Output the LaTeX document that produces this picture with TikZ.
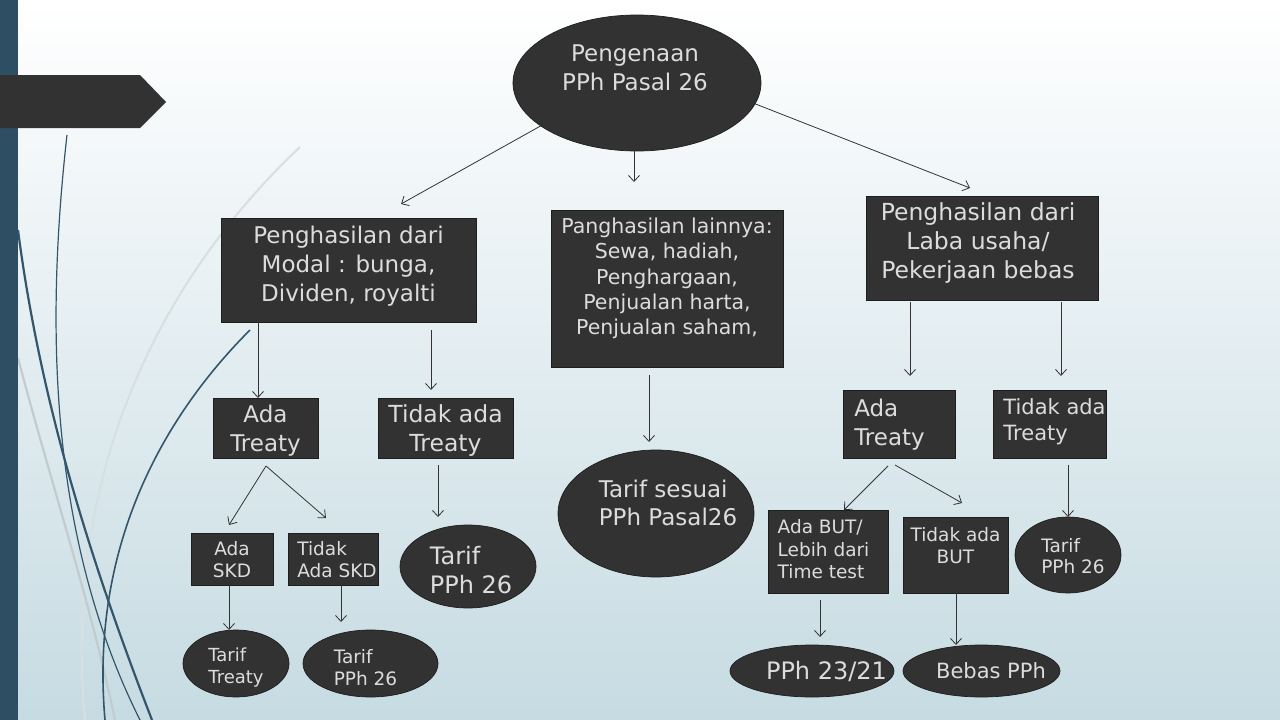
\documentclass[tikz,border=0pt]{standalone}
\usepackage{fontspec}
\setmainfont{DejaVu Sans}
\usetikzlibrary{shapes.geometric, arrows.meta, calc}
\definecolor{nodefill}{HTML}{323232}
\definecolor{nodeedge}{HTML}{1E1E1E}
\definecolor{txtcol}{HTML}{DCDCDC}
\definecolor{linecol}{HTML}{333333}
\definecolor{barcol}{HTML}{2E4E64}
\definecolor{bgtop}{HTML}{FFFFFF}
\definecolor{bgmid}{HTML}{EAF0F3}
\definecolor{bgbot}{HTML}{C6DBE2}
\definecolor{curvedark}{HTML}{34566C}
\definecolor{curvegray}{HTML}{C2CBD0}
\definecolor{curvelight}{HTML}{D8DFE2}
\newcommand\myfs[2]{\fontsize{#1}{#2}\selectfont}
\begin{document}
\begin{tikzpicture}[x=1pt,y=-1pt,
  shp/.style={fill=nodefill, draw=nodeedge, line width=0.7pt, inner sep=0pt, outer sep=0pt},
  box/.style={shp, rectangle},
  ell/.style={shp, ellipse},
  txt/.style={text=txtcol, inner sep=0pt, align=center},
  txl/.style={text=txtcol, inner sep=0pt, align=left},
  arr/.style={draw=linecol, line width=0.8pt, -{Straight Barb[length=6pt,width=11pt]}},
]
\useasboundingbox (0,0) rectangle (1280,720);
% background
\shade[top color=bgtop, middle color=bgmid, bottom color=bgbot] (0,0) rectangle (1280,720);
% decorative curves
\draw[curvelight, line width=2pt] (300,147) .. controls (180,260) and (60,450) .. (85,720);
\draw[curvegray, line width=2.2pt] (18,358) .. controls (50,480) and (90,600) .. (115,720);
\draw[curvedark, line width=1.2pt] (67,135) .. controls (45,330) and (50,540) .. (140,720);
\draw[curvedark, line width=2.2pt] (18,230) .. controls (40,400) and (90,560) .. (152,720);
\draw[curvedark, line width=1.6pt] (250,330) .. controls (160,420) and (90,550) .. (105,720);
% left bar and banner
\fill[barcol] (0,0) rectangle (18,720);
\fill[nodefill] (0,75) -- (140,75) -- (166,102) -- (140,128) -- (0,128) -- cycle;

% ---- shapes ----
\node[ell, minimum width=248pt, minimum height=136pt] (top) at (637,83) {};
\node[box, minimum width=255pt, minimum height=104pt] (A) at (348.5,270) {};
\node[box, minimum width=232pt, minimum height=157pt] (B) at (667,288.5) {};
\node[box, minimum width=232pt, minimum height=104pt] (C) at (982,248) {};
\node[box, minimum width=105pt, minimum height=60pt] (AT1) at (265.5,428) {};
\node[box, minimum width=135pt, minimum height=60pt] (TT1) at (445.5,428) {};
\node[box, minimum width=82pt, minimum height=52pt] (SKD) at (232,559) {};
\node[box, minimum width=90pt, minimum height=52pt] (NSKD) at (333,559) {};
\node[ell, minimum width=136pt, minimum height=83pt] (E26a) at (468,566.5) {};
\node[ell, minimum width=106pt, minimum height=67pt] (ETr) at (236,663.5) {};
\node[ell, minimum width=135pt, minimum height=67pt] (E26b) at (370.5,663.5) {};
\node[ell, minimum width=196pt, minimum height=127pt] (ES) at (656,513.5) {};
\node[box, minimum width=112pt, minimum height=68pt] (AT2) at (899,424) {};
\node[box, minimum width=113pt, minimum height=68pt] (TT2) at (1049.5,424) {};
\node[box, minimum width=120pt, minimum height=83pt] (BUT) at (828,551.5) {};
\node[box, minimum width=105pt, minimum height=76pt] (NBUT) at (955.5,555) {};
\node[ell, minimum width=106pt, minimum height=76pt] (E26c) at (1068,555) {};
\node[ell, minimum width=164pt, minimum height=52pt] (E2321) at (812,671) {};
\node[ell, minimum width=157pt, minimum height=52pt] (EBebas) at (981.5,671) {};

% ---- texts ----
\node[txt, font=\myfs{23}{29}] (topt) at ($(top)+(-2,-15)$) {Pengenaan\\PPh Pasal 26};
\node[txt, font=\myfs{23}{29}] (At) at ($(A)+(0,-4)$) {Penghasilan dari\\Modal : bunga,\\Dividen, royalti};
\node[txt, font=\myfs{20.5}{25.3}] (Bt) at ($(B)+(0,-10)$) {Panghasilan lainnya:\\Sewa, hadiah,\\Penghargaan,\\Penjualan harta,\\Penjualan saham,};
\node[txt, font=\myfs{23.5}{29}] (Ct) at ($(C)+(-4,-5)$) {Penghasilan dari\\Laba usaha/\\Pekerjaan bebas};
\node[txt, font=\myfs{23}{29}] (AT1t) at ($(AT1)+(0,3)$) {Ada\\Treaty};
\node[txt, font=\myfs{23.5}{29}] (TT1t) at ($(TT1)+(0,3)$) {Tidak ada\\Treaty};
\node[txt, font=\myfs{18.5}{22}] (SKDt) at ($(SKD)+(0,1)$) {Ada\\SKD};
\node[txl, font=\myfs{18.5}{22}] (NSKDt) at ($(NSKD)+(4,1)$) {Tidak\\Ada SKD};
\node[txl, font=\myfs{24}{29}] (E26at) at ($(E26a)+(3,4)$) {Tarif\\PPh 26};
\node[txl, font=\myfs{18}{22}] (ETrt) at ($(ETr)+(0,4)$) {Tarif\\Treaty};
\node[txl, font=\myfs{18.5}{22}] (E26bt) at ($(E26b)+(-5,4)$) {Tarif\\PPh 26};
\node[txl, font=\myfs{23}{28}] (ESt) at ($(ES)+(12,-11)$) {Tarif sesuai\\PPh Pasal26};
\node[txl, font=\myfs{23}{29}] (AT2t) at ($(AT2)+(-9.5,1)$) {Ada\\Treaty};
\node[txl, font=\myfs{21}{26}] (TT2t) at ($(TT2)+(5,-2)$) {Tidak ada\\Treaty};
\node[txl, font=\myfs{18.5}{22.5}] (BUTt) at ($(BUT)+(-4.5,-2)$) {Ada BUT/\\Lebih dari\\Time test};
\node[txt, font=\myfs{18.5}{22}] (NBUTt) at ($(NBUT)+(0,-9)$) {Tidak ada\\BUT};
\node[txl, font=\myfs{18.5}{21}] (E26ct) at ($(E26c)+(5,1)$) {Tarif\\PPh 26};
\node[txt, font=\myfs{24}{29}] (E2321t) at ($(E2321)+(14.5,0)$) {PPh 23/21};
\node[txt, font=\myfs{21}{26}] (EBebast) at ($(EBebas)+(9.5,0)$) {Bebas PPh};

% ---- connectors ----
\draw[arr] (top.204) -- ($(A.north west)+(180,-14)$);
\draw[arr] ($(top.south)+(-3,0)$) -- ($(B.north)+(-33,-28)$);
\draw[arr] (top.-10) -- ($(C.north)+(-12,-8)$);
\draw[arr] ($(A.south)+(-90.5,0)$) -- ($(AT1.north)+(-7.5,0)$);
\draw[arr] ($(A.south)+(82.5,8)$) -- ($(TT1.north)+(-14.5,-8)$);
\draw[arr] ($(B.south)+(-18,8)$) -- ($(ES.north)+(-7,-8)$);
\draw[arr] ($(C.south)+(-72,2)$) -- ($(AT2.north)+(11,-14)$);
\draw[arr] ($(C.south)+(79,2)$) -- ($(TT2.north)+(11.5,-14)$);
\draw[arr] ($(AT1.south)+(0.5,8)$) -- ($(SKD.north)+(-3,-8)$);
\draw[arr] ($(AT1.south)+(0.5,8)$) -- ($(NSKD.north)+(-7,-15)$);
\draw[arr] ($(TT1.south)+(-7.5,7)$) -- ($(E26a.north)+(-30,-8)$);
\draw[arr] ($(AT2.south)+(-11,8)$) -- ($(BUT.north)+(16,0)$);
\draw[arr] ($(AT2.south)+(-4,7)$) -- ($(NBUT.north)+(6.5,-14)$);
\draw[arr] ($(TT2.south)+(18.5,7)$) -- (E26c.north);
\draw[arr] ($(SKD.south)+(-3,0)$) -- ($(ETr.north)+(-7,0)$);
\draw[arr] ($(NSKD.south)+(8,0)$) -- ($(E26b.north)+(-29.5,-8)$);
\draw[arr] ($(BUT.south)+(-8,7)$) -- ($(E2321.north)+(8,-8)$);
\draw[arr] ($(NBUT.south)+(0.5,0)$) -- ($(EBebas.north)+(-25.5,0)$);
\end{tikzpicture}
\end{document}
